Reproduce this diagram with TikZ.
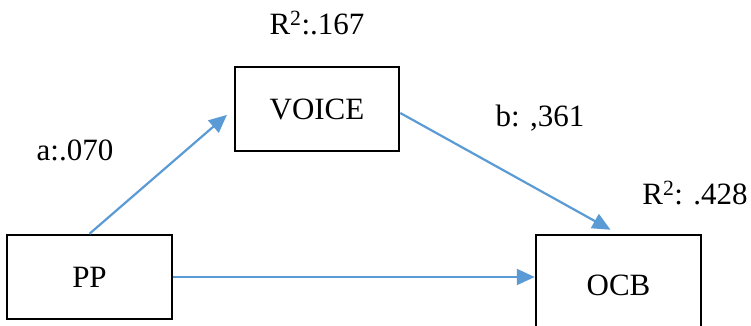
\documentclass[tikz,border=0pt]{standalone}
\usepackage{fontspec}
\setmainfont{Liberation Serif}
\usetikzlibrary{arrows.meta,calc}
\definecolor{arrowblue}{HTML}{5B9BD5}
\begin{document}
\begin{tikzpicture}[x=1pt,y=1pt,
  box/.style={draw=black, line width=2.5pt, minimum width=165pt, minimum height=84pt, inner sep=0pt, font=\fontsize{31}{37}\selectfont},
  lbl/.style={anchor=base, inner sep=0pt, font=\fontsize{31}{37}\selectfont},
  arr/.style={draw=arrowblue, line width=2.2pt, -{Triangle[length=18pt,width=16pt]}}]
\useasboundingbox (0,0) rectangle (751,326);
\clip (0,0) rectangle (751,326);
\node[box] (PP) at (89.5,49) {PP};
\node[box, minimum width=164pt] (VOICE) at (317,217) {VOICE};
\node[box, minimum height=100pt] (OCB) at (618.5,41) {OCB};
\node[lbl] (r1) at (317,291) {R\textsuperscript{2}:.167};
\node[lbl] (a) at (75,165) {a:.070};
\node[lbl] (b) at (540,199) {b: ,361};
\node[lbl] (r2) at (695,121) {R\textsuperscript{2}: .428};
\coordinate (vs) at ($(VOICE.east)+(0,-4)$);
\coordinate (ot) at ($(OCB.north)+(-8,4)$);
\draw[arr, shorten >=9pt] (PP.north) -- (VOICE.west);
\draw[arr] (vs) -- (ot);
\draw[arr] (PP.east) -- (PP.east -| OCB.west);
\end{tikzpicture}
\end{document}
